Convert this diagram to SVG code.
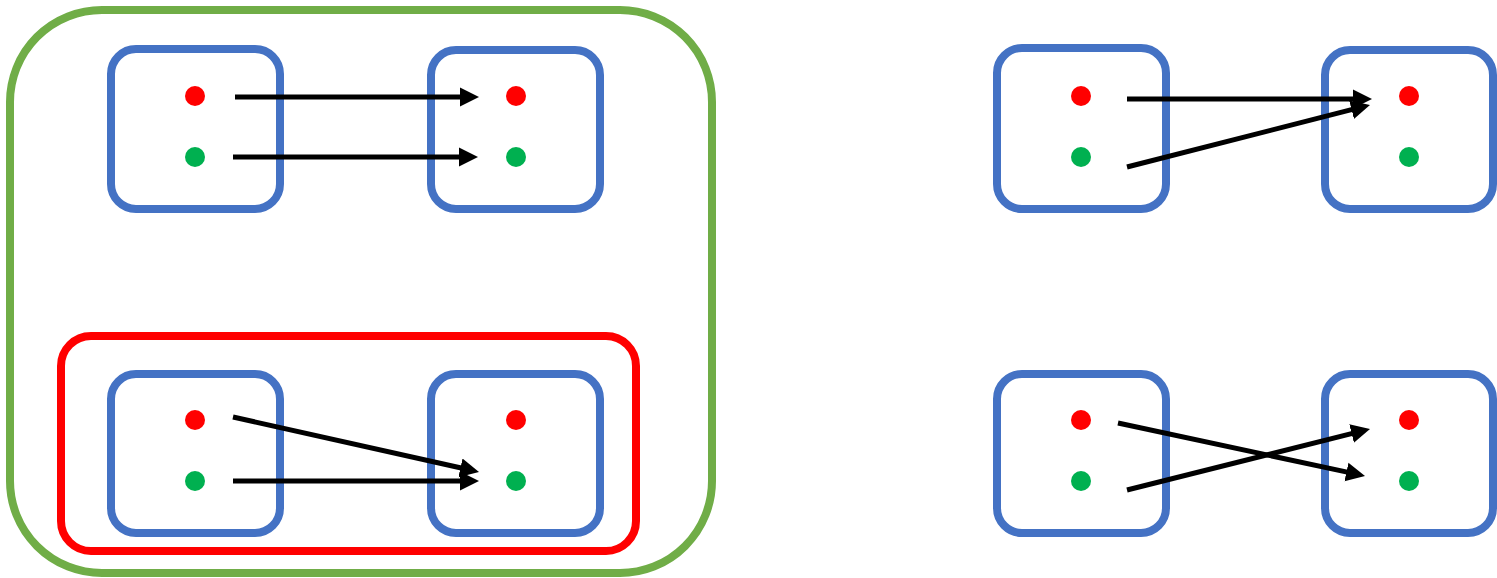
<svg xmlns="http://www.w3.org/2000/svg" width="1497" height="578" viewBox="0 0 1497 578">
<style>
.box{fill:none;stroke:#4472C4;stroke-width:8}
.r{fill:#FF0000}
.g{fill:#00B050}
.c{stroke:#000;stroke-width:5;fill:none;marker-end:url(#ah)}
</style>
<defs>
<marker id="ah" markerUnits="userSpaceOnUse" markerWidth="20" markerHeight="20" viewBox="0 0 20 20" refX="2" refY="10" orient="auto">
<path d="M0,0.5 L19,10 L0,19.5 z" fill="#000"/>
</marker>
</defs>
<g id="group-green"><rect x="10" y="10" width="702" height="563" rx="92" fill="none" stroke="#70AD47" stroke-width="8"/></g>
<g id="group-red"><rect x="61" y="336" width="575" height="215" rx="30" fill="none" stroke="#FF0000" stroke-width="8"/></g>
<g id="n1"><rect class="box" x="111" y="49" width="169" height="160" rx="25"/><circle class="r" cx="195" cy="96" r="10"/><circle class="g" cx="195" cy="157" r="10"/></g>
<g id="n2"><rect class="box" x="431" y="50" width="169" height="159" rx="25"/><circle class="r" cx="516" cy="96" r="10"/><circle class="g" cx="516" cy="157" r="10"/></g>
<g id="n3"><rect class="box" x="111" y="374" width="169" height="159" rx="25"/><circle class="r" cx="195" cy="420" r="10"/><circle class="g" cx="195" cy="481" r="10"/></g>
<g id="n4"><rect class="box" x="431" y="374" width="169" height="159" rx="25"/><circle class="r" cx="516" cy="420" r="10"/><circle class="g" cx="516" cy="481" r="10"/></g>
<g id="n5"><rect class="box" x="997" y="48" width="169" height="161" rx="25"/><circle class="r" cx="1081" cy="96" r="10"/><circle class="g" cx="1081" cy="157" r="10"/></g>
<g id="n6"><rect class="box" x="1325" y="50" width="168" height="159" rx="25"/><circle class="r" cx="1409" cy="96" r="10"/><circle class="g" cx="1409" cy="157" r="10"/></g>
<g id="n7"><rect class="box" x="997" y="374" width="169" height="159" rx="25"/><circle class="r" cx="1081" cy="420" r="10"/><circle class="g" cx="1081" cy="481" r="10"/></g>
<g id="n8"><rect class="box" x="1325" y="374" width="168" height="159" rx="25"/><circle class="r" cx="1409" cy="420" r="10"/><circle class="g" cx="1409" cy="481" r="10"/></g>
<g id="connectors">
<line class="c" x1="235" y1="97" x2="462" y2="97"/>
<line class="c" x1="233" y1="157" x2="461" y2="157"/>
<line class="c" x1="233" y1="417" x2="462.4" y2="468.3"/>
<line class="c" x1="233" y1="481" x2="462" y2="481"/>
<line class="c" x1="1127" y1="99" x2="1355" y2="99"/>
<line class="c" x1="1127" y1="167" x2="1353.5" y2="109.2"/>
<line class="c" x1="1118" y1="423" x2="1348.4" y2="472.4"/>
<line class="c" x1="1127" y1="490" x2="1353.5" y2="433.1"/>
</g>
</svg>
